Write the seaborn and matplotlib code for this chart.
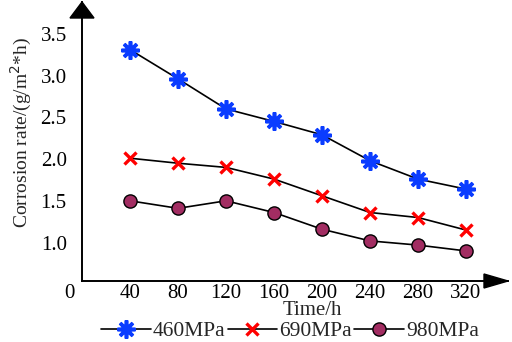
import matplotlib
matplotlib.use("Agg")
import matplotlib.pyplot as plt
import matplotlib.transforms as mtransforms
from matplotlib.patches import Polygon
import seaborn as sns

# data
time_h = [40, 80, 120, 160, 200, 240, 280, 320]
rate_460 = [3.31, 2.96, 2.60, 2.45, 2.29, 1.98, 1.76, 1.64]
rate_690 = [2.01, 1.95, 1.90, 1.76, 1.56, 1.36, 1.30, 1.15]
rate_980 = [1.50, 1.41, 1.50, 1.36, 1.16, 1.02, 0.97, 0.90]
x_ticks = [0, 40, 80, 120, 160, 200, 240, 280, 320]
y_ticks = [1.0, 1.5, 2.0, 2.5, 3.0, 3.5]

sns.set_style("white")
plt.rcParams["font.family"] = ["Liberation Serif", "DejaVu Serif"]

fig = plt.figure(figsize=(5.12, 3.42), dpi=100)
W, H = 512, 342
ax = fig.add_axes([82 / W, (H - 281) / H, (508 - 82) / W, (281 - 2) / H])

sns.lineplot(x=time_h, y=rate_460, ax=ax, color="black", lw=1.2,
             marker=(8, 2, 0), markersize=13, markeredgewidth=2.6,
             markeredgecolor="#0a3cff", markerfacecolor="#0a3cff",
             label="460MPa")
sns.lineplot(x=time_h, y=rate_690, ax=ax, color="black", lw=1.2,
             marker="x", markersize=9, markeredgewidth=2.4,
             markeredgecolor="#ff0000", markerfacecolor="#ff0000",
             label="690MPa")
sns.lineplot(x=time_h, y=rate_980, ax=ax, color="black", lw=1.2,
             marker="o", markersize=9.5, markeredgewidth=1.0,
             markeredgecolor="black", markerfacecolor="#a22d62",
             label="980MPa")

ax.set_xlim(0, 355)
ax.set_ylim(0.54, 3.88)
ax.set_xticks(x_ticks)
ax.set_yticks(y_ticks)
ax.set_yticklabels([f"{v:.1f}" for v in y_ticks])

# spines with arrow heads
for s in ["top", "right"]:
    ax.spines[s].set_visible(False)
for s in ["left", "bottom"]:
    ax.spines[s].set_linewidth(1.4)
    ax.spines[s].set_color("black")
aw, ah = 508 - 82, 281 - 2
ax.add_patch(Polygon([(0, 1), (-12 / aw, 1 - 16 / ah), (12 / aw, 1 - 16 / ah)],
                     closed=True, color="black", transform=ax.transAxes,
                     clip_on=False))
ax.add_patch(Polygon([(1, 0), (1 - 24 / aw, 7 / ah), (1 - 24 / aw, -7 / ah)],
                     closed=True, color="black", transform=ax.transAxes,
                     clip_on=False))

ax.tick_params(axis="y", direction="in", length=6.5, width=1.2,
               labelsize=15, pad=11, colors="black")
ax.tick_params(axis="x", direction="in", length=5, width=1.2,
               labelsize=15, pad=2, colors="black")
lbl0 = ax.get_xticklabels()[0]
lbl0.set_ha("right")
lbl0.set_transform(lbl0.get_transform() +
                   mtransforms.ScaledTranslation(-5 / 72, 0, fig.dpi_scale_trans))
ax.xaxis.get_major_ticks()[0].tick1line.set_visible(False)

ax.set_xlabel("Time/h", fontsize=15)
ax.set_ylabel("Corrosion rate/(g/m$^{2}$*h)", fontsize=14)
ax.xaxis.set_label_coords(0.54, -0.072)
ax.yaxis.set_label_coords(-0.112, 0.534)

ax.get_legend().remove()
handles, labels = ax.get_legend_handles_labels()
fig.legend(handles, labels, loc="center", ncol=3,
           bbox_to_anchor=(290 / W, 1 - 331 / H), frameon=False,
           fontsize=15.5, handlelength=2.3, handletextpad=0.1,
           columnspacing=0.1, borderpad=0, borderaxespad=0)

fig.savefig("out.png", dpi=100)
